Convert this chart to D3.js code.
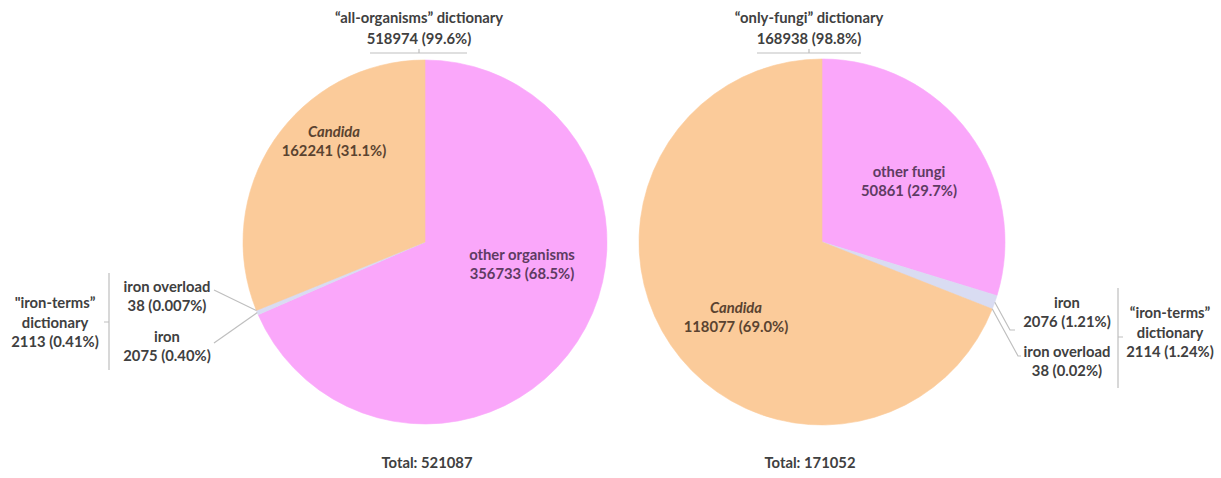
<!DOCTYPE html>
<html>
<head>
<meta charset="utf-8">
<script src="https://cdn.jsdelivr.net/npm/d3@7"></script>
<style>
  html, body { margin: 0; padding: 0; background: #fff; }
  svg { display: block; }
  text { font-family: Lato, "Open Sans", sans-serif; font-weight: 700; font-size: 14.8px; }
</style>
</head>
<body>
<svg id="chart" width="1221" height="478"></svg>
<script>
// Slice categories and counts, in clockwise order from 12 o'clock
const leftCategories = ["other organisms", "iron", "iron overload", "Candida"];
const leftValues = [356733, 2075, 38, 162241];
const leftPercents = ["68.5%", "0.40%", "0.007%", "31.1%"];

const rightCategories = ["other fungi", "iron", "iron overload", "Candida"];
const rightValues = [50861, 2076, 38, 118077];
const rightPercents = ["29.7%", "1.21%", "0.02%", "69.0%"];

// Dictionary groupings
const leftDictTitle = "\u201call-organisms\u201d dictionary";
const leftDictValue = "518974 (99.6%)";
const leftIronTitle = ["\"iron-terms\u201d", "dictionary", "2113 (0.41%)"];
const leftTotal = "Total: 521087";

const rightDictTitle = "\u201conly-fungi\u201d dictionary";
const rightDictValue = "168938 (98.8%)";
const rightIronTitle = ["\u201ciron-terms\u201d", "dictionary", "2114 (1.24%)"];
const rightTotal = "Total: 171052";

const colorScale = d3.scaleOrdinal()
  .domain(["other", "iron", "iron overload", "Candida"])
  .range(["#FAA7FA", "#D9DCF2", "#D9DCF2", "#FBCB9A"]);
const kind = c => (c.startsWith("other") ? "other" : c);

const svg = d3.select("#chart");
const textGray = "#404040";
const lineGray = "#BFBFBF";

const pie = d3.pie().sort(null).value(d => d.value);

function drawPie(cfg) {
  const data = cfg.categories.map((c, i) => ({ cat: c, value: cfg.values[i], pct: cfg.percents[i] }));
  const arcs = pie(data);
  const arc = d3.arc().innerRadius(0).outerRadius(cfg.r);
  const g = svg.append("g").attr("transform", `translate(${cfg.cx},${cfg.cy})`);

  g.selectAll("path.slice").data(arcs).enter().append("path")
    .attr("class", "slice")
    .attr("d", arc)
    .attr("fill", d => colorScale(kind(d.data.cat)))
    .attr("stroke", d => colorScale(kind(d.data.cat)))
    .attr("stroke-width", 0.6);

  // labels inside the two large slices
  arcs.forEach(a => {
    const off = cfg.inner[a.data.cat];
    if (!off) return;
    const t = g.append("text").attr("text-anchor", "middle")
      .attr("fill", off.color);
    t.append("tspan").attr("x", off.dx).attr("y", off.dy)
      .style("font-style", a.data.cat === "Candida" ? "italic" : "normal")
      .text(a.data.cat);
    t.append("tspan").attr("x", off.dx).attr("y", off.dy + 19)
      .text(`${a.data.value} (${a.data.pct})`);
  });

  // external labels for the thin slices, with leader lines
  arcs.forEach(a => {
    const ext = cfg.outer[a.data.cat];
    if (!ext) return;
    const mid = (a.startAngle + a.endAngle) / 2;
    const px = Math.sin(mid) * cfg.r, py = -Math.cos(mid) * cfg.r;
    g.append("polyline")
      .attr("points", [[px, py]].concat(ext.leader).map(p => p.join(",")).join(" "))
      .attr("fill", "none").attr("stroke", lineGray).attr("stroke-width", 1.2);
    const t = g.append("text").attr("text-anchor", "middle").attr("fill", textGray);
    t.append("tspan").attr("x", ext.dx).attr("y", ext.dy).text(a.data.cat);
    t.append("tspan").attr("x", ext.dx).attr("y", ext.dy + 19)
      .text(`${a.data.value} (${a.data.pct})`);
  });

  // dictionary bracket above the pie
  const tb = cfg.topBracket;
  g.append("path")
    .attr("d", `M${tb.x0},${tb.y}H${tb.x1}M${tb.tx},${tb.y}V${tb.y - 4}`)
    .attr("fill", "none").attr("stroke", lineGray).attr("stroke-width", 1.2);
  g.append("text").attr("text-anchor", "middle").attr("fill", textGray)
    .attr("x", tb.tx).attr("y", tb.y - 30).text(cfg.dictTitle);
  g.append("text").attr("text-anchor", "middle").attr("fill", textGray)
    .attr("x", tb.tx).attr("y", tb.y - 9).text(cfg.dictValue);

  // iron-terms bracket at the side
  const sb = cfg.sideBracket;
  g.append("path")
    .attr("d", `M${sb.x},${sb.y0}V${sb.y1}M${sb.x},${sb.ty}H${sb.x + sb.tick}`)
    .attr("fill", "none").attr("stroke", lineGray).attr("stroke-width", 1.2);
  const st = g.append("text").attr("text-anchor", "middle").attr("fill", textGray);
  cfg.ironTitle.forEach((line, i) => {
    st.append("tspan").attr("x", sb.lx).attr("y", sb.ly + i * 19.5).text(line);
  });

  g.append("text").attr("text-anchor", "middle").attr("fill", textGray)
    .attr("x", cfg.totalDx).attr("y", 226).text(cfg.total);
}

drawPie({
  cx: 425, cy: 242, r: 182,
  categories: leftCategories, values: leftValues, percents: leftPercents,
  inner: {
    "Candida": { dx: -91, dy: -105, color: "#5A4330" },
    "other organisms": { dx: 97, dy: 18, color: "#5E3B62" }
  },
  outer: {
    "iron overload": { dx: -258, dy: 50, leader: [[-211, 48]] },
    "iron": { dx: -258, dy: 100, leader: [[-211, 101]] }
  },
  topBracket: { x0: -55, x1: 42, tx: -6, y: -189 },
  sideBracket: { x: -316, y0: 31, y1: 128, ty: 80, tick: -5, lx: -370, ly: 66 },
  dictTitle: leftDictTitle, dictValue: leftDictValue,
  ironTitle: leftIronTitle, total: leftTotal, totalDx: 2
});

drawPie({
  cx: 822, cy: 242, r: 183,
  categories: rightCategories, values: rightValues, percents: rightPercents,
  inner: {
    "other fungi": { dx: 87, dy: -65, color: "#5E3B62" },
    "Candida": { dx: -86, dy: 71, color: "#5A4330" }
  },
  outer: {
    "iron": { dx: 245, dy: 66, leader: [[188, 88], [193, 88]] },
    "iron overload": { dx: 245, dy: 115, leader: [[196, 114], [199, 114]] }
  },
  topBracket: { x0: -65, x1: 39, tx: -13, y: -189 },
  sideBracket: { x: 296, y0: 46, y1: 146, ty: 95, tick: 5, lx: 348, ly: 76 },
  dictTitle: rightDictTitle, dictValue: rightDictValue,
  ironTitle: rightIronTitle, total: rightTotal, totalDx: -12
});
</script>
</body>
</html>
